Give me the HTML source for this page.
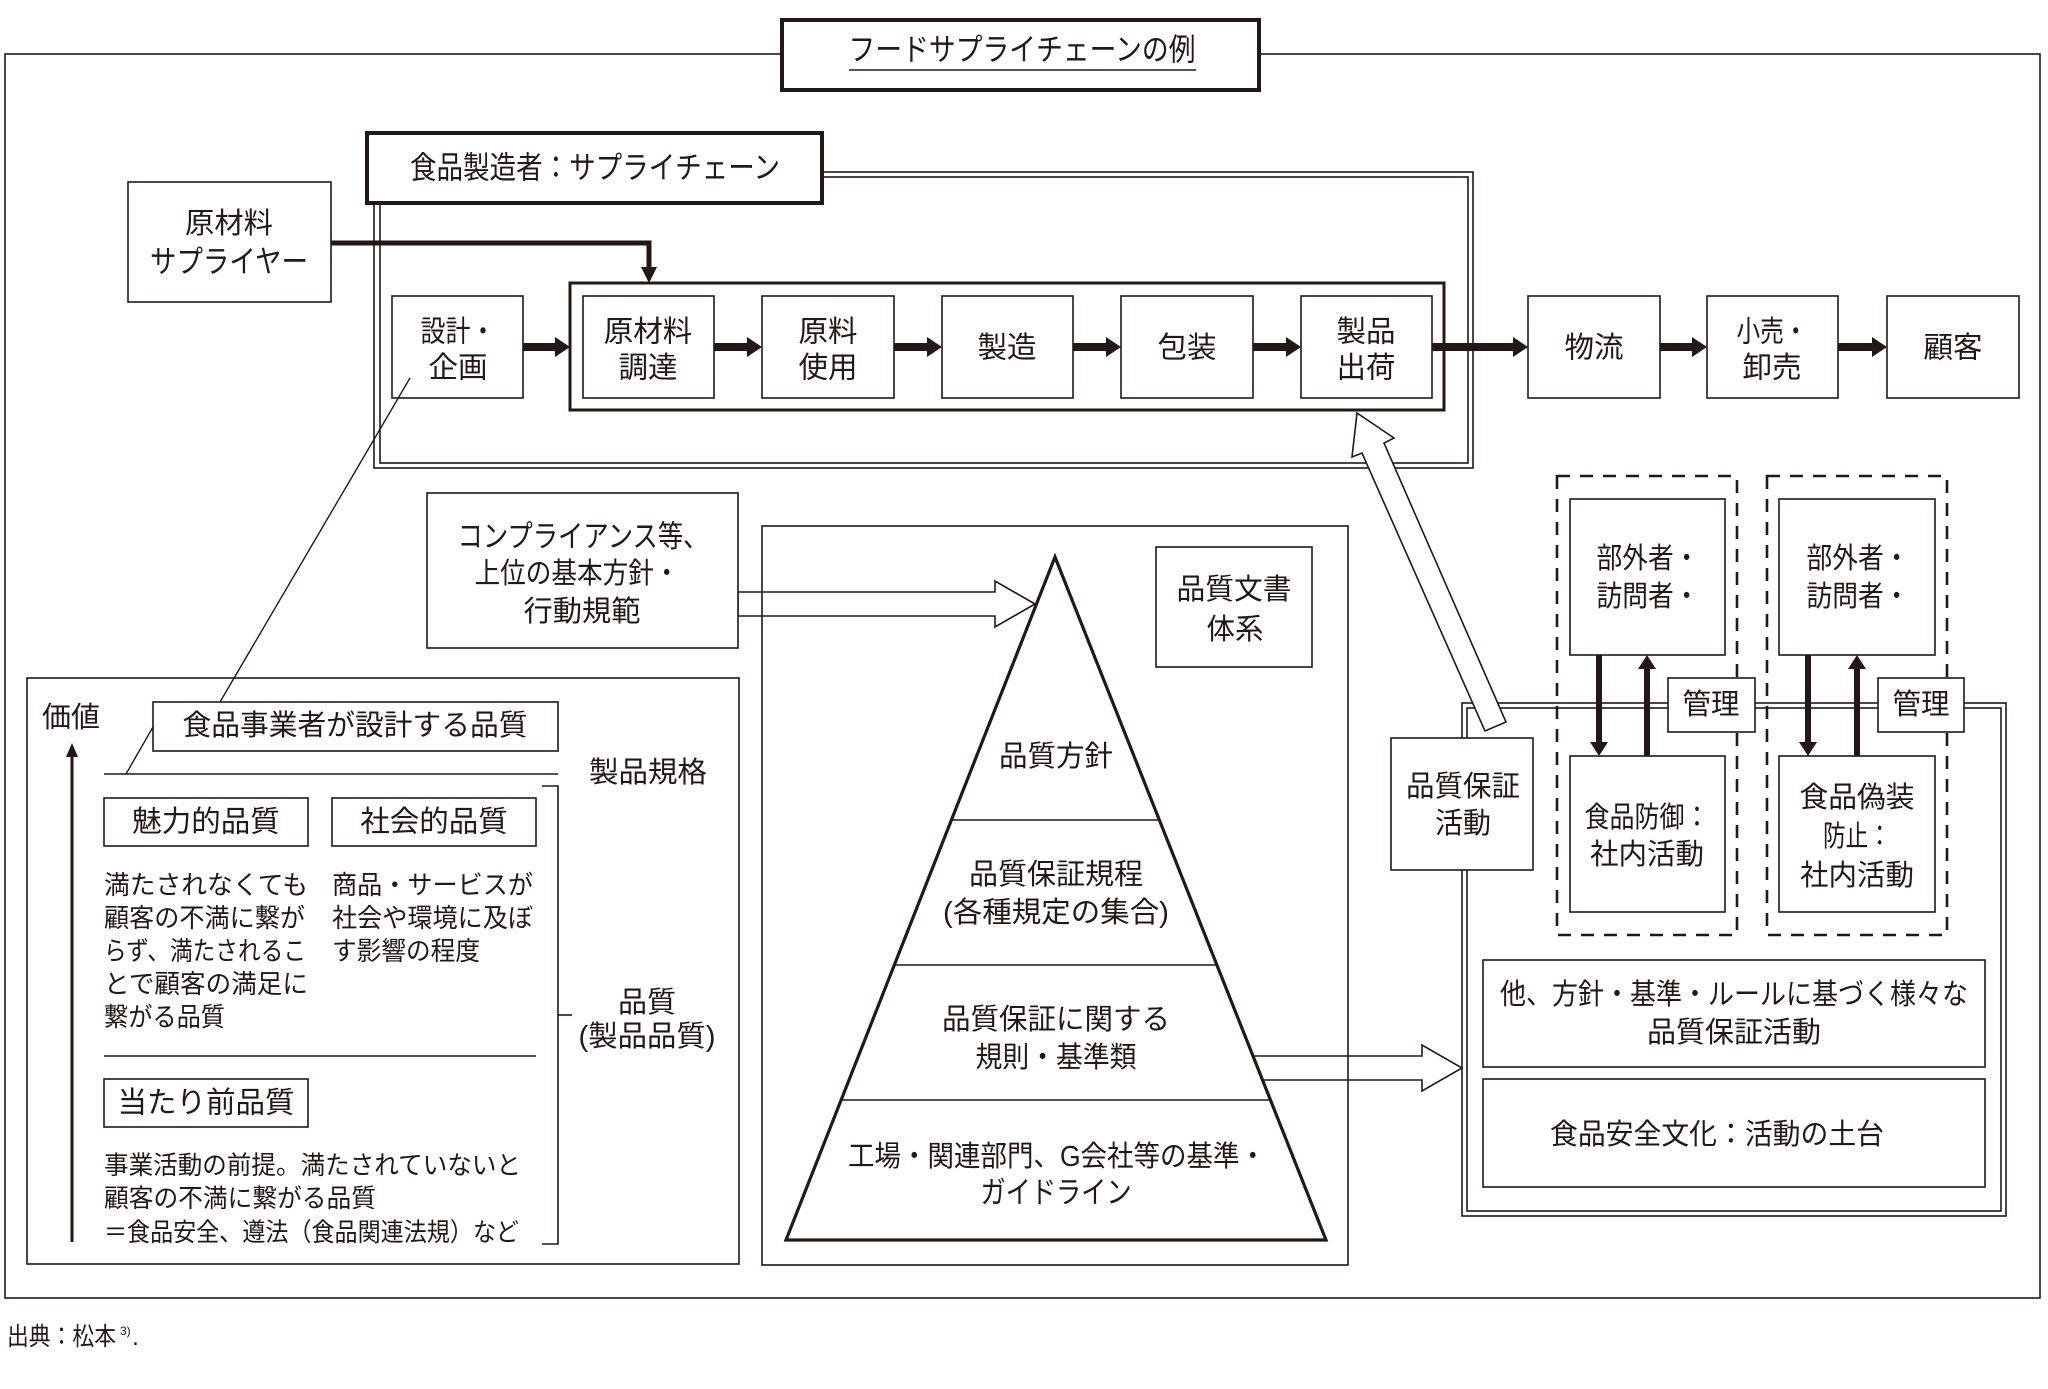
<!DOCTYPE html>
<html><head><meta charset="utf-8">
<style>
html,body{margin:0;padding:0;background:#fff;}
svg{display:block;}
text{font-family:"Liberation Sans","Noto Sans CJK JP",sans-serif;fill:#231815;dominant-baseline:central;}
</style></head>
<body>
<svg width="2048" height="1389" viewBox="0 0 2048 1389" xmlns="http://www.w3.org/2000/svg">
<g fill="none" stroke="#231815" stroke-width="1.6">
  <rect x="5" y="54" width="2035" height="1244"/>
</g>
<!-- title -->
<rect x="782" y="20" width="477" height="70" fill="#fff" stroke="#231815" stroke-width="4"/>
<text x="1022" y="50" font-size="31" text-anchor="middle" textLength="347" lengthAdjust="spacingAndGlyphs">フードサプライチェーンの例</text>
<line x1="849" y1="70" x2="1196" y2="70" stroke="#231815" stroke-width="1.6"/>

<!-- top double box -->
<g fill="none" stroke="#231815" stroke-width="1.6">
  <rect x="374" y="172" width="1099" height="296"/>
  <rect x="380" y="177" width="1088" height="286"/>
</g>
<rect x="367" y="133" width="455" height="70" fill="#fff" stroke="#231815" stroke-width="4"/>
<text x="595" y="168" font-size="31" text-anchor="middle" textLength="370" lengthAdjust="spacingAndGlyphs">食品製造者：サプライチェーン</text>

<!-- supplier -->
<rect x="128" y="182" width="203" height="120" fill="#fff" stroke="#231815" stroke-width="1.6"/>
<text x="229" y="224" font-size="29" text-anchor="middle" textLength="88" lengthAdjust="spacingAndGlyphs">原材料</text>
<text x="229" y="262" font-size="31" text-anchor="middle" textLength="158" lengthAdjust="spacingAndGlyphs">サプライヤー</text>
<polyline points="331,243 649,243 649,270" fill="none" stroke="#231815" stroke-width="5"/>
<polygon points="641,267 657,267 649,283" fill="#231815"/>

<!-- inner thick box -->
<rect x="570" y="283" width="874" height="127" fill="none" stroke="#231815" stroke-width="3"/>

<!-- row boxes -->
<g fill="#fff" stroke="#231815" stroke-width="1.6">
  <rect x="392" y="296" width="131" height="102"/>
  <rect x="583" y="296" width="131" height="102"/>
  <rect x="762" y="296" width="132" height="102"/>
  <rect x="942" y="296" width="131" height="102"/>
  <rect x="1121" y="296" width="132" height="102"/>
  <rect x="1301" y="296" width="131" height="102"/>
  <rect x="1528" y="296" width="132" height="102"/>
  <rect x="1707" y="296" width="131" height="102"/>
  <rect x="1887" y="296" width="132" height="102"/>
</g>
<g font-size="29.5" text-anchor="middle">
  <text x="458" y="332" textLength="75" lengthAdjust="spacingAndGlyphs">設計・</text>
  <text x="458" y="368">企画</text>
  <text x="648" y="332">原材料</text>
  <text x="648" y="368">調達</text>
  <text x="828" y="332">原料</text>
  <text x="828" y="368">使用</text>
  <text x="1007" y="348">製造</text>
  <text x="1187" y="348">包装</text>
  <text x="1366" y="332">製品</text>
  <text x="1366" y="368">出荷</text>
  <text x="1594" y="348">物流</text>
  <text x="1772" y="332" textLength="71" lengthAdjust="spacingAndGlyphs">小売・</text>
  <text x="1772" y="368">卸売</text>
  <text x="1953" y="348">顧客</text>
</g>
<!-- row arrows -->
<g fill="#231815">
  <rect x="523" y="343" width="33" height="8"/><polygon points="555,337 570,347 555,357"/>
  <rect x="714" y="343" width="34" height="8"/><polygon points="747,337 762,347 747,357"/>
  <rect x="894" y="343" width="34" height="8"/><polygon points="927,337 942,347 927,357"/>
  <rect x="1073" y="343" width="34" height="8"/><polygon points="1106,337 1121,347 1106,357"/>
  <rect x="1253" y="343" width="34" height="8"/><polygon points="1286,337 1301,347 1286,357"/>
  <rect x="1432" y="343" width="82" height="8"/><polygon points="1513,337 1528,347 1513,357"/>
  <rect x="1660" y="343" width="33" height="8"/><polygon points="1692,337 1707,347 1692,357"/>
  <rect x="1838" y="343" width="35" height="8"/><polygon points="1872,337 1887,347 1872,357"/>
</g>

<!-- connector line from 設計 -->
<line x1="410" y1="378" x2="220" y2="702" stroke="#231815" stroke-width="1.4"/>
<line x1="153" y1="727" x2="126" y2="774" stroke="#231815" stroke-width="1.4"/>

<!-- hollow arrows -->
<polygon points="738,592 995,592 995,581 1035,604 995,627 995,616 738,616" fill="#fff" stroke="#231815" stroke-width="1.6"/>
<polygon points="1253,1056 1422,1056 1422,1045 1462,1068 1422,1091 1422,1080 1262,1080" fill="#fff" stroke="#231815" stroke-width="1.6"/>

<!-- left panel -->
<rect x="27" y="678" width="712" height="586" fill="none" stroke="#231815" stroke-width="1.6"/>
<text x="71" y="718" font-size="29" text-anchor="middle">価値</text>
<line x1="72" y1="1242" x2="72" y2="752" stroke="#231815" stroke-width="3"/>
<polygon points="66,757 78,757 72,743" fill="#231815"/>
<rect x="153" y="702" width="405" height="49" fill="#fff" stroke="#231815" stroke-width="1.6"/>
<text x="355" y="726" font-size="29" text-anchor="middle" textLength="345" lengthAdjust="spacingAndGlyphs">食品事業者が設計する品質</text>
<line x1="104" y1="774" x2="558" y2="774" stroke="#231815" stroke-width="1.6"/>
<text x="648" y="773" font-size="29" text-anchor="middle" textLength="118" lengthAdjust="spacingAndGlyphs">製品規格</text>
<polyline points="542,786 558,786 558,1244 542,1244" fill="none" stroke="#231815" stroke-width="1.6"/>
<line x1="558" y1="1015" x2="572" y2="1015" stroke="#231815" stroke-width="1.6"/>
<text x="647" y="1003" font-size="29" text-anchor="middle">品質</text>
<text x="647" y="1037" font-size="29" text-anchor="middle" textLength="137" lengthAdjust="spacingAndGlyphs">(製品品質)</text>
<rect x="104" y="798" width="204" height="48" fill="none" stroke="#231815" stroke-width="1.6"/>
<rect x="332" y="798" width="204" height="48" fill="none" stroke="#231815" stroke-width="1.6"/>
<text x="206" y="822" font-size="29.5" text-anchor="middle">魅力的品質</text>
<text x="434" y="822" font-size="29.5" text-anchor="middle">社会的品質</text>
<g font-size="26">
  <text x="104" y="885" textLength="204" lengthAdjust="spacingAndGlyphs">満たされなくても</text>
  <text x="104" y="918" textLength="201" lengthAdjust="spacingAndGlyphs">顧客の不満に繋が</text>
  <text x="104" y="951" textLength="202" lengthAdjust="spacingAndGlyphs">らず、満たされるこ</text>
  <text x="104" y="984" textLength="204" lengthAdjust="spacingAndGlyphs">とで顧客の満足に</text>
  <text x="104" y="1017" textLength="121" lengthAdjust="spacingAndGlyphs">繋がる品質</text>
  <text x="332" y="885" textLength="201" lengthAdjust="spacingAndGlyphs">商品・サービスが</text>
  <text x="332" y="918" textLength="201" lengthAdjust="spacingAndGlyphs">社会や環境に及ぼ</text>
  <text x="332" y="951" textLength="148" lengthAdjust="spacingAndGlyphs">す影響の程度</text>
</g>
<line x1="104" y1="1056" x2="536" y2="1056" stroke="#231815" stroke-width="1.6"/>
<rect x="104" y="1079" width="204" height="48" fill="none" stroke="#231815" stroke-width="1.6"/>
<text x="206" y="1103" font-size="29.5" text-anchor="middle">当たり前品質</text>
<g font-size="25.5">
  <text x="104" y="1166" textLength="417" lengthAdjust="spacingAndGlyphs">事業活動の前提。満たされていないと</text>
  <text x="104" y="1199" textLength="272" lengthAdjust="spacingAndGlyphs">顧客の不満に繋がる品質</text>
  <text x="104" y="1233" textLength="415" lengthAdjust="spacingAndGlyphs">＝食品安全、遵法（食品関連法規）など</text>
</g>

<!-- compliance box -->
<rect x="427" y="493" width="311" height="155" fill="#fff" stroke="#231815" stroke-width="1.6"/>
<g font-size="29" text-anchor="middle">
  <text x="583" y="537" font-size="30.5" textLength="251" lengthAdjust="spacingAndGlyphs">コンプライアンス等、</text>
  <text x="577" y="574" textLength="205" lengthAdjust="spacingAndGlyphs">上位の基本方針・</text>
  <text x="582" y="612" textLength="117" lengthAdjust="spacingAndGlyphs">行動規範</text>
</g>

<!-- middle panel -->
<rect x="762" y="526" width="586" height="739" fill="none" stroke="#231815" stroke-width="1.6"/>
<rect x="1156" y="547" width="156" height="120" fill="#fff" stroke="#231815" stroke-width="1.6"/>
<text x="1234" y="590" font-size="29" text-anchor="middle" textLength="115" lengthAdjust="spacingAndGlyphs">品質文書</text>
<text x="1235" y="630" font-size="29" text-anchor="middle" textLength="57" lengthAdjust="spacingAndGlyphs">体系</text>
<polygon points="1055,557 1326,1240 786,1240" fill="none" stroke="#231815" stroke-width="3.2" stroke-linejoin="miter"/>
<g stroke="#231815" stroke-width="1.6">
  <line x1="951" y1="820" x2="1159" y2="820"/>
  <line x1="894" y1="965" x2="1217" y2="965"/>
  <line x1="841" y1="1100" x2="1270" y2="1100"/>
</g>
<g font-size="29" text-anchor="middle">
  <text x="1056" y="757" textLength="114" lengthAdjust="spacingAndGlyphs">品質方針</text>
  <text x="1056" y="875" textLength="174" lengthAdjust="spacingAndGlyphs">品質保証規程</text>
  <text x="1056" y="913" textLength="226" lengthAdjust="spacingAndGlyphs">(各種規定の集合)</text>
  <text x="1056" y="1020" textLength="228" lengthAdjust="spacingAndGlyphs">品質保証に関する</text>
  <text x="1056" y="1058" textLength="161" lengthAdjust="spacingAndGlyphs">規則・基準類</text>
  <text x="1057" y="1157" textLength="418" lengthAdjust="spacingAndGlyphs">工場・関連部門、G会社等の基準・</text>
  <text x="1056" y="1193" font-size="30.5" textLength="151" lengthAdjust="spacingAndGlyphs">ガイドライン</text>
</g>

<!-- right panel double box -->
<g fill="none" stroke="#231815" stroke-width="1.6">
  <rect x="1462" y="703" width="544" height="513"/>
  <rect x="1467" y="708" width="534" height="503"/>
</g>

<!-- diagonal hollow arrow -->
<polygon points="1485,731 1362,453 1352,457 1357,413 1394,438 1384,443 1506,722" fill="#fff" stroke="#231815" stroke-width="1.6" stroke-linejoin="miter"/>

<!-- QA activity box -->
<rect x="1391" y="738" width="142" height="132" fill="#fff" stroke="#231815" stroke-width="1.6"/>
<text x="1463" y="787" font-size="29" text-anchor="middle" textLength="114" lengthAdjust="spacingAndGlyphs">品質保証</text>
<text x="1463" y="824" font-size="29" text-anchor="middle" textLength="56" lengthAdjust="spacingAndGlyphs">活動</text>

<!-- dashed boxes -->
<g fill="none" stroke="#231815" stroke-width="2.6" stroke-dasharray="13 10">
  <rect x="1557" y="476" width="180" height="459"/>
  <rect x="1767" y="476" width="180" height="459"/>
</g>
<g fill="#fff" stroke="#231815" stroke-width="1.6">
  <rect x="1570" y="499" width="155" height="156"/>
  <rect x="1779" y="499" width="156" height="156"/>
  <rect x="1570" y="756" width="155" height="156"/>
  <rect x="1779" y="756" width="156" height="156"/>
</g>
<g font-size="29" text-anchor="middle">
  <text x="1648" y="559" textLength="103" lengthAdjust="spacingAndGlyphs">部外者・</text>
  <text x="1648" y="597" textLength="103" lengthAdjust="spacingAndGlyphs">訪問者・</text>
  <text x="1858" y="559" textLength="103" lengthAdjust="spacingAndGlyphs">部外者・</text>
  <text x="1858" y="597" textLength="103" lengthAdjust="spacingAndGlyphs">訪問者・</text>
  <text x="1647" y="818" textLength="125" lengthAdjust="spacingAndGlyphs">食品防御：</text>
  <text x="1647" y="855" textLength="114" lengthAdjust="spacingAndGlyphs">社内活動</text>
  <text x="1857" y="798" textLength="115" lengthAdjust="spacingAndGlyphs">食品偽装</text>
  <text x="1857" y="837" textLength="68" lengthAdjust="spacingAndGlyphs">防止：</text>
  <text x="1857" y="876" textLength="114" lengthAdjust="spacingAndGlyphs">社内活動</text>
</g>
<!-- vertical arrows -->
<g fill="#231815">
  <rect x="1596" y="655" width="6" height="88"/><polygon points="1590,742 1608,742 1599,756"/>
  <rect x="1644" y="668" width="6" height="88"/><polygon points="1638,669 1656,669 1647,655"/>
  <rect x="1805" y="655" width="6" height="88"/><polygon points="1799,742 1817,742 1808,756"/>
  <rect x="1854" y="668" width="6" height="88"/><polygon points="1848,669 1866,669 1857,655"/>
</g>
<!-- 管理 boxes -->
<g fill="#fff" stroke="#231815" stroke-width="1.6">
  <rect x="1668" y="678" width="87" height="54"/>
  <rect x="1878" y="678" width="86" height="54"/>
</g>
<text x="1711" y="705" font-size="29" text-anchor="middle" textLength="57" lengthAdjust="spacingAndGlyphs">管理</text>
<text x="1921" y="705" font-size="29" text-anchor="middle" textLength="57" lengthAdjust="spacingAndGlyphs">管理</text>

<!-- bottom right boxes -->
<g fill="#fff" stroke="#231815" stroke-width="1.6">
  <rect x="1483" y="960" width="502" height="107"/>
  <rect x="1483" y="1079" width="502" height="108"/>
</g>
<text x="1734" y="995" font-size="29" text-anchor="middle" textLength="468" lengthAdjust="spacingAndGlyphs">他、方針・基準・ルールに基づく様々な</text>
<text x="1734" y="1033" font-size="29" text-anchor="middle">品質保証活動</text>
<text x="1717" y="1135" font-size="29" text-anchor="middle" textLength="334" lengthAdjust="spacingAndGlyphs">食品安全文化：活動の土台</text>

<!-- source -->
<text x="7" y="1337" font-size="25" textLength="109" lengthAdjust="spacingAndGlyphs">出典：松本</text>
<text x="120" y="1331" font-size="12">3)</text>
<text x="132" y="1337" font-size="25">.</text>
</svg>
</body></html>
